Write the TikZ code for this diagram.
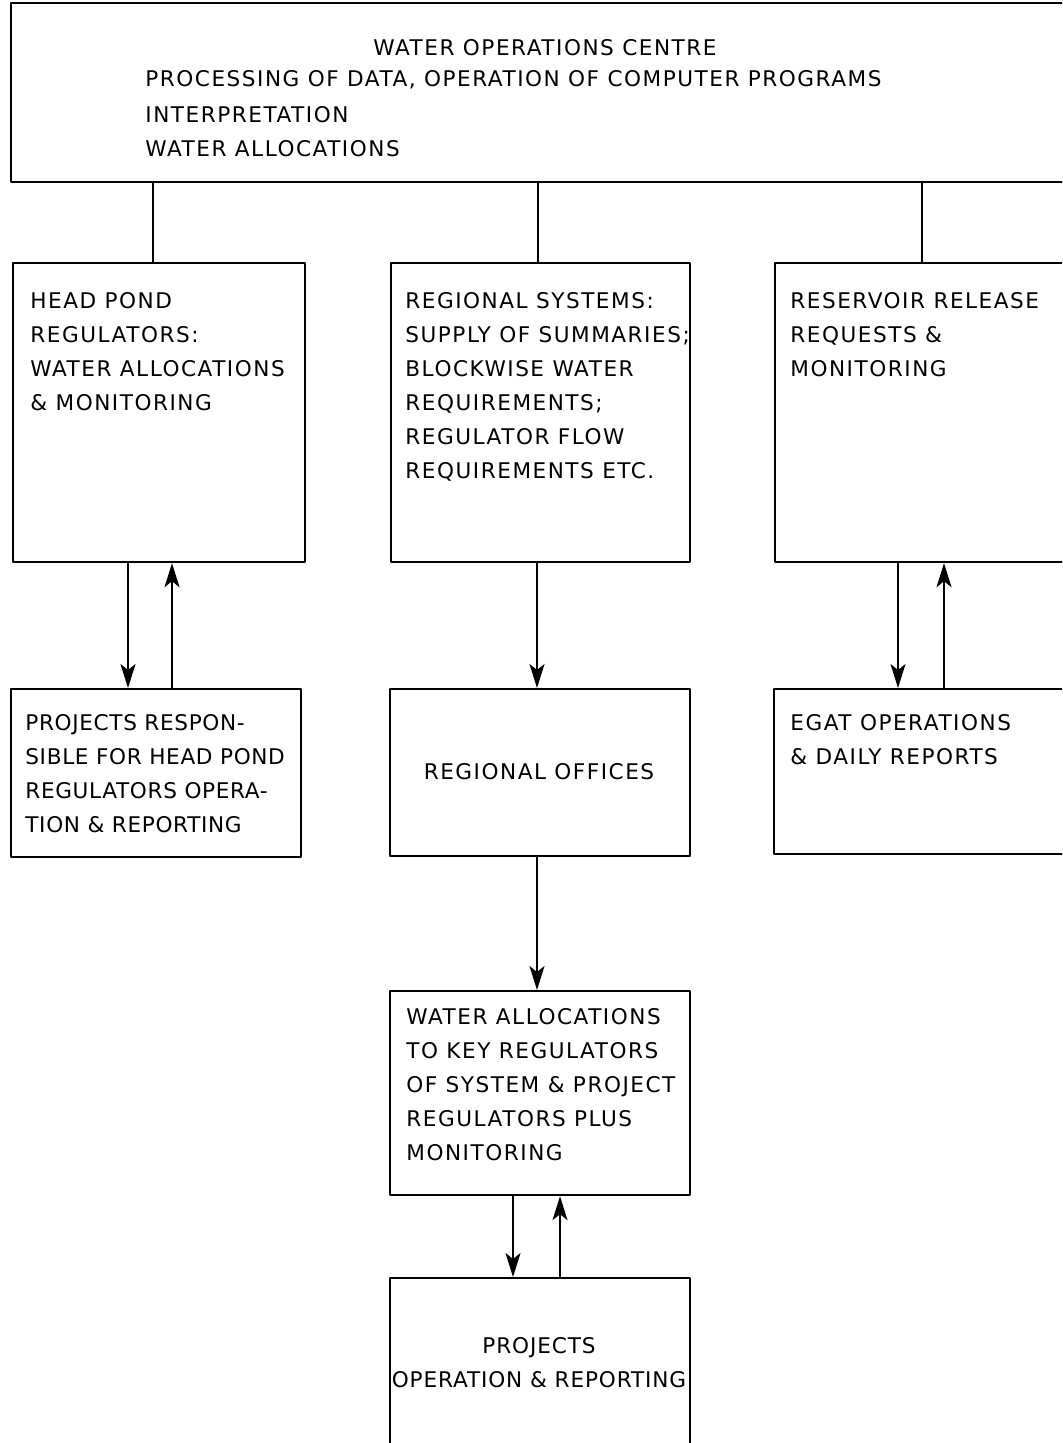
\documentclass[tikz,border=0pt]{standalone}
\usepackage{fontspec}
\setmainfont{DejaVu Sans}[LetterSpace=7]
\usetikzlibrary{arrows.meta,calc}

\begin{document}
\begin{tikzpicture}[x=0.5pt,y=-0.5pt,line cap=round,line join=round,
  box/.style={draw,line width=1.1pt,anchor=north west,inner sep=0pt},
  txt/.style={anchor=north west,inner sep=0pt,align=left,font=\fontsize{10.8}{17}\selectfont},
  arr/.style={line width=0.9pt,-{Stealth[length=12pt,width=7.5pt,inset=3pt]}}]
  \useasboundingbox (0,0) rectangle (1062,1443);
  \clip (0,0) rectangle (1062,1443);

  % boxes
  \node[box,minimum width=545pt,minimum height=89.5pt] (woc) at (10,2) {};
  \node[box,minimum width=146pt,minimum height=149.5pt] (hp) at (12,262) {};
  \node[box,minimum width=149.5pt,minimum height=149.5pt] (rs) at (390,262) {};
  \node[box,minimum width=148pt,minimum height=149.5pt] (rr) at (774,262) {};
  \node[box,minimum width=145pt,minimum height=84pt] (prj) at (10,688) {};
  \node[box,minimum width=150pt,minimum height=83.5pt] (ro) at (389,688) {};
  \node[box,minimum width=148pt,minimum height=82.5pt] (egat) at (773,688) {};
  \node[box,minimum width=150pt,minimum height=102pt] (wa) at (389,990) {};
  \node[box,minimum width=150pt,minimum height=100pt] (pop) at (389,1277) {};

  % texts
  \node[txt,anchor=north] (wocA) at (545,39) {WATER OPERATIONS CENTRE};
  \node[txt] (wocB) at (145,70) {PROCESSING OF DATA, OPERATION OF COMPUTER PROGRAMS\\[1pt]INTERPRETATION\\WATER ALLOCATIONS};
  \node[txt] (hpT) at (30,292) {HEAD POND\\REGULATORS:\\WATER ALLOCATIONS\\\& MONITORING};
  \node[txt] (rsT) at (405,292) {REGIONAL SYSTEMS:\\SUPPLY OF SUMMARIES;\\BLOCKWISE WATER\\REQUIREMENTS;\\REGULATOR FLOW\\REQUIREMENTS ETC.};
  \node[txt] (rrT) at (790,292) {RESERVOIR RELEASE\\REQUESTS \&\\MONITORING};
  \node[txt,font=\fontsize{10.8}{17}\selectfont\addfontfeatures{LetterSpace=3}] (prjT) at (25,714) {PROJECTS RESPON-\\SIBLE FOR HEAD POND\\REGULATORS OPERA-\\TION \& REPORTING};
  \node[txt,anchor=center] (roT) at (539,772) {REGIONAL OFFICES};
  \node[txt] (egatT) at (790,714) {EGAT OPERATIONS\\\& DAILY REPORTS};
  \node[txt] (waT) at (406,1008) {WATER ALLOCATIONS\\TO KEY REGULATORS\\OF SYSTEM \& PROJECT\\REGULATORS PLUS\\MONITORING};
  \node[txt,anchor=north,align=center,font=\fontsize{10.8}{17}\selectfont\addfontfeatures{LetterSpace=4}] (popT) at (539,1337) {PROJECTS\\OPERATION \& REPORTING};

  % links from the centre
  \coordinate (l1) at (153,0);
  \coordinate (l2) at (538,0);
  \coordinate (l3) at (922,0);
  \draw[line width=0.9pt] (l1 |- woc.south) -- (l1 |- hp.north);
  \draw[line width=0.9pt] (l2 |- woc.south) -- (l2 |- rs.north);
  \draw[line width=0.9pt] (l3 |- woc.south) -- (l3 |- rr.north);

  % arrows
  \coordinate (a1) at (128,0);
  \coordinate (a2) at (172,0);
  \coordinate (a3) at (537,0);
  \coordinate (a4) at (898,0);
  \coordinate (a5) at (944,0);
  \coordinate (a6) at (513,0);
  \coordinate (a7) at (560,0);
  \draw[arr] (a1 |- hp.south) -- (a1 |- prj.north);
  \draw[arr] (a2 |- prj.north) -- (a2 |- hp.south);
  \draw[arr] (a3 |- rs.south) -- (a3 |- ro.north);
  \draw[arr] (a4 |- rr.south) -- (a4 |- egat.north);
  \draw[arr] (a5 |- egat.north) -- (a5 |- rr.south);
  \draw[arr] (a3 |- ro.south) -- (a3 |- wa.north);
  \draw[arr] (a6 |- wa.south) -- (a6 |- pop.north);
  \draw[arr] (a7 |- pop.north) -- (a7 |- wa.south);
\end{tikzpicture}
\end{document}
